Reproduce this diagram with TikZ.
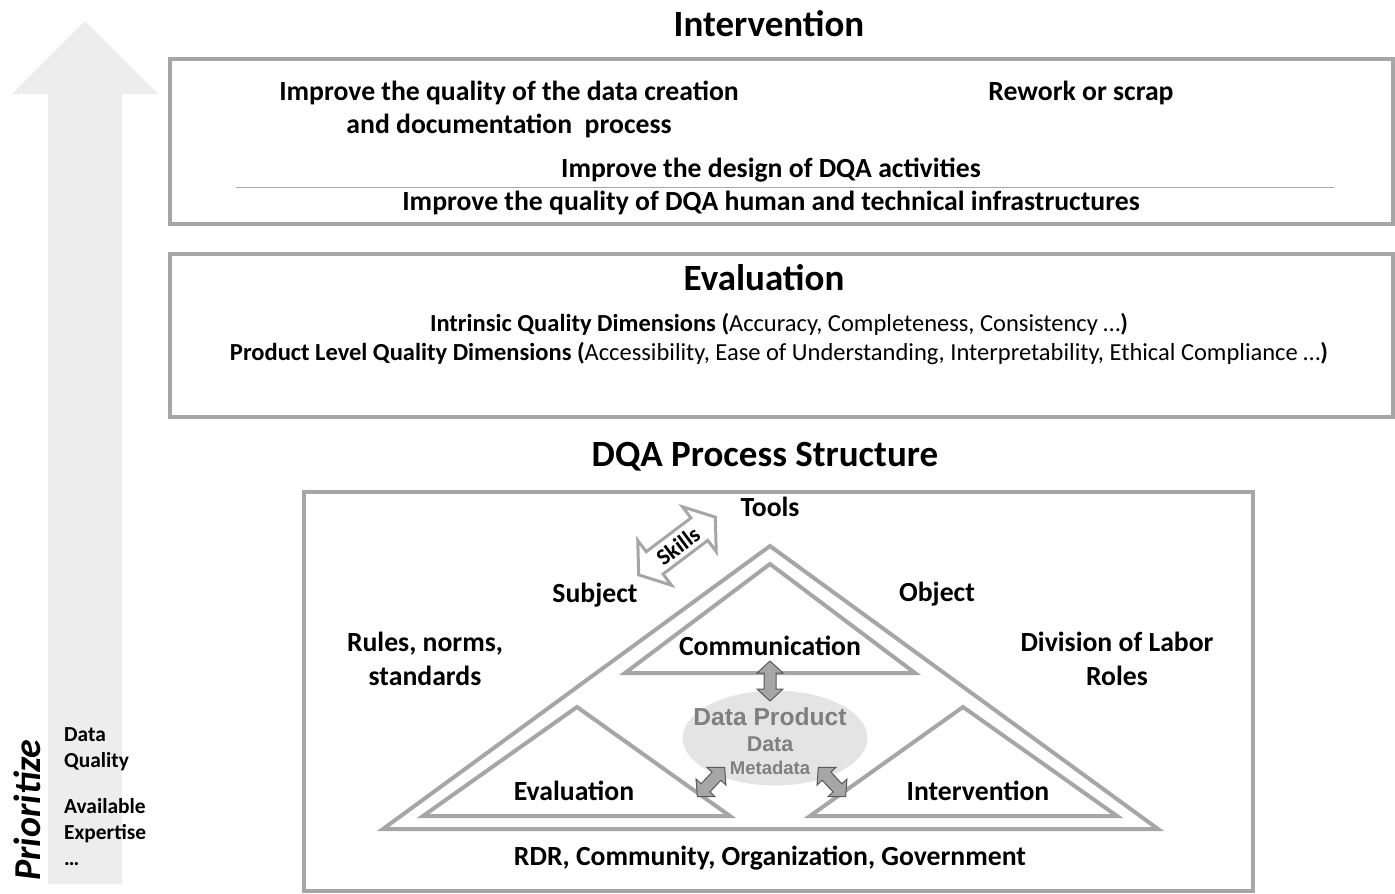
\documentclass[tikz,border=0pt]{standalone}
\usepackage{fontspec}
\setmainfont{Carlito}
\newfontfamily\arialfont{Liberation Sans}
\usetikzlibrary{calc}
\definecolor{boxgray}{HTML}{A6A6A6}
\definecolor{bggray}{HTML}{EDEDED}
\definecolor{ellfill}{HTML}{E4E4E4}
\definecolor{elltext}{HTML}{7F7F7F}
\definecolor{arrfill}{HTML}{A6A6A6}
\definecolor{arredge}{HTML}{595959}
\newcommand{\fs}[1]{\fontsize{#1}{#1}\selectfont}
\tikzset{
  frame/.style={draw=boxgray, line width=4pt},
  tri/.style={draw=boxgray, line width=4pt, line join=miter},
  title/.style={font=\fs{37}\bfseries},
  big/.style={font=\fs{27.7}\bfseries, align=center},
  mid/.style={font=\fs{24.5}, align=center},
  small/.style={font=\fs{21.4}\bfseries, align=left, anchor=north west},
  solidarrow/.style={fill=arrfill, draw=arredge, line width=1pt, line join=miter},
  openarrow/.style={fill=white, draw=boxgray, line width=3pt, line join=miter},
}
% double-headed block arrow along the local x axis, centred at the origin
\newcommand{\dblarrowpath}[4]{% half length, shaft half width, head half width, head length
  (-#1,0) -- ({-#1+#4},-#3) -- ({-#1+#4},-#2) -- ({#1-#4},-#2) -- ({#1-#4},-#3) -- (#1,0)
  -- ({#1-#4},#3) -- ({#1-#4},#2) -- ({-#1+#4},#2) -- ({-#1+#4},#3) -- cycle}
\begin{document}
\begin{tikzpicture}[x=1pt, y=-1pt, every node/.style={inner sep=0pt}]
\useasboundingbox (0,0) rectangle (1395,894);

% prioritise arrow in the background
\fill[bggray] (85,21) -- (158,94) -- (122,94) -- (122,884) -- (48,884) -- (48,94) -- (12,94) -- cycle;
\node[rotate=90, font=\fs{38}\bfseries\itshape] (prio) at (27,810) {Prioritize};
\node[small] (dq) at (64,727) {Data\\[4.6pt]Quality};
\node[small] (ae) at (64,798) {Available\\[4.6pt]Expertise\\[4.6pt]\dots};

% intervention panel
\node[title] (intT) at (769,24) {Intervention};
\draw[frame] (170,59) rectangle (1393,224);
\node[big] (i1) at (509,109) {Improve the quality of the data creation\\[5.3pt]and documentation\ \ process};
\node[big] (i2) at (1081,93) {Rework or scrap};
\node[big] (i3) at (771,170) {Improve the design of DQA activities};
\draw[boxgray, line width=1pt] (236,187) -- (1334,187);
\node[big] (i4) at (771,203) {Improve the quality of DQA human and technical infrastructures};

% evaluation panel
\node[title] (evT) at (764,278) {Evaluation};
\draw[frame] (170,254) rectangle (1393,417);
\node[mid] (e1) at (779,324) {\textbf{Intrinsic Quality Dimensions (}Accuracy, Completeness,\ Consistency \dots\textbf{)}};
\node[mid] (e2) at (779,354) {\textbf{Product Level Quality Dimensions (}Accessibility, Ease of Understanding,\ Interpretability, Ethical Compliance \dots\textbf{)}};

% DQA process structure
\node[title] (psT) at (765,457) {DQA Process Structure};
\draw[frame] (304,492) rectangle (1253,891);

\coordinate (apex) at (770,546);
\coordinate (bl) at (383,829);
\coordinate (br) at (1158,829);
\draw[tri] (apex) -- (bl) -- (br) -- cycle;

\coordinate (capex) at (770,564);
\coordinate (cbl) at (625,673);
\coordinate (cbr) at (915,673);
\draw[tri] (capex) -- (cbl) -- (cbr) -- cycle;

\coordinate (eapex) at (577,707);
\coordinate (ebl) at (423,816);
\coordinate (ebr) at (730,816);
\draw[tri] (eapex) -- (ebl) -- (ebr) -- cycle;

\coordinate (iapex) at (963,707);
\coordinate (ibl) at (810,816);
\coordinate (ibr) at (1117,816);
\draw[tri] (iapex) -- (ibl) -- (ibr) -- cycle;

% data product
\draw[fill=ellfill, draw=white, line width=1pt] (775,738) ellipse [x radius=93, y radius=48];
\node[font=\arialfont\fs{24.6}\bfseries, text=elltext] (dp) at (770,717) {Data Product};
\node[font=\arialfont\fs{21.4}\bfseries, text=elltext] (dd) at (770,744) {Data};
\node[font=\arialfont\fs{18.5}\bfseries, text=elltext] (dm) at (770,768) {Metadata};

% exchange arrows
\begin{scope}[shift={(770,681)}, rotate=90]
  \draw[solidarrow] \dblarrowpath{20}{6}{13}{12};
\end{scope}
\begin{scope}[shift={(711,782)}, rotate=47]
  \draw[solidarrow] \dblarrowpath{20}{6}{13}{12};
\end{scope}
\begin{scope}[shift={(832,782)}, rotate=-47]
  \draw[solidarrow] \dblarrowpath{20}{6}{13}{12};
\end{scope}
\begin{scope}[shift={(677,546)}, rotate=37]
  \draw[openarrow] \dblarrowpath{48}{14}{28}{20};
\end{scope}
\node[font=\fs{23}\bfseries, rotate=37] (sk) at (678,546) {Skills};

% labels
\node[big] (tools) at (770,507) {Tools};
\node[big] (subj) at (595,595) {Subject};
\node[big] (obj) at (937,594) {Object};
\node[big] (rules) at (425,659) {Rules, norms,\\[6.3pt]standards};
\node[big] (div) at (1117,659) {Division of Labor\\[6.3pt]Roles};
\node[big] (comm) at (770,646) {Communication};
\node[big] (ev) at (574,791) {Evaluation};
\node[big] (iv) at (978,791) {Intervention};
\node[big] (rdr) at (770,858) {RDR, Community, Organization, Government};
\end{tikzpicture}
\end{document}
